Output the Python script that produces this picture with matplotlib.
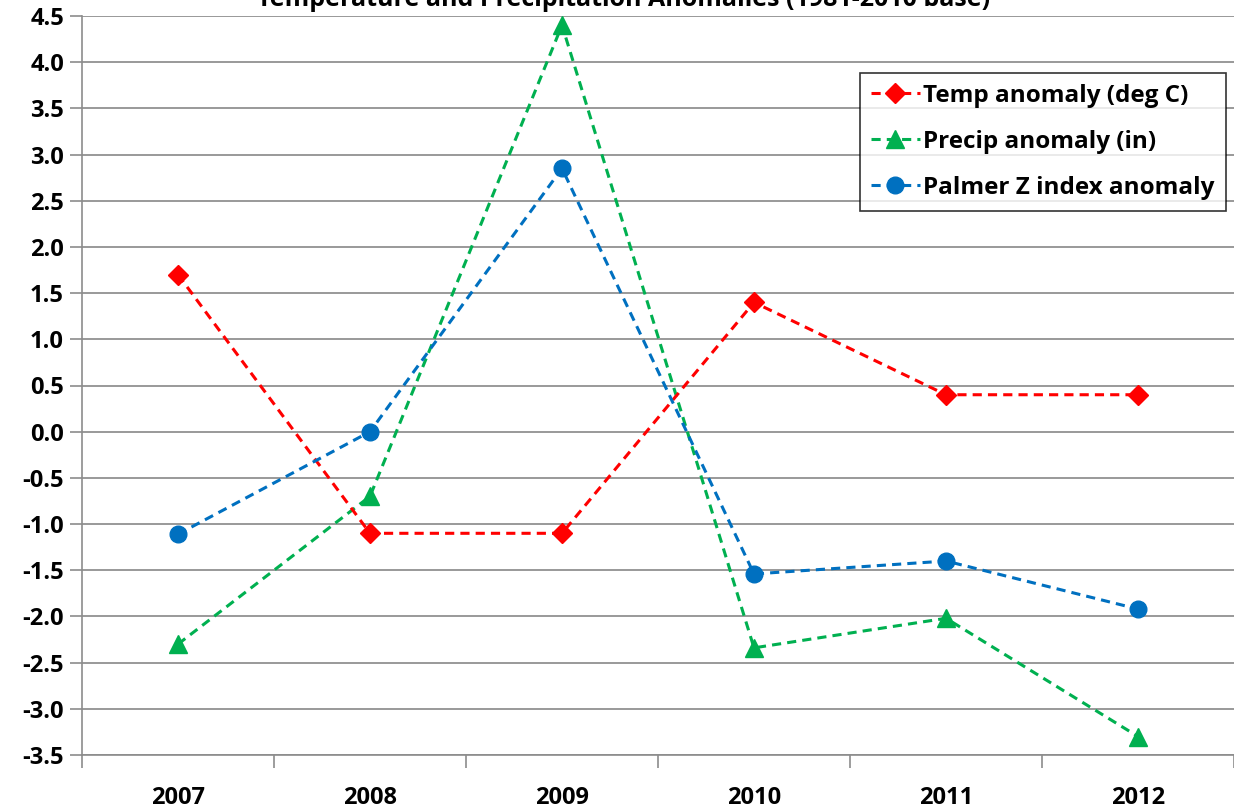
import numpy as np
import matplotlib
matplotlib.use('Agg')
import matplotlib.pyplot as plt
from matplotlib.ticker import FixedLocator

plt.rcParams['font.family'] = ['Open Sans', 'DejaVu Sans']

years = ["2007", "2008", "2009", "2010", "2011", "2012"]
temp_anom = [1.7, -1.1, -1.1, 1.4, 0.4, 0.4]
precip_anom = [-2.3, -0.7, 4.4, -2.34, -2.02, -3.3]
palmer_anom = [-1.11, 0.0, 2.85, -1.54, -1.40, -1.92]
yticks = np.arange(-3.5, 4.51, 0.5)

x = np.arange(len(years))

fig = plt.figure(figsize=(12.34, 8.11), dpi=100, facecolor="white")
ax = fig.add_axes([82/1234, 1 - 755/811, 1 - 82/1234, (755 - 16)/811])

dash = (0, (3.0, 2.0))
ax.plot(x, temp_anom, color="#FF0000", lw=2.2, ls=dash, marker="D", ms=10,
        label="Temp anomaly (deg C)", zorder=4)
ax.plot(x, precip_anom, color="#00B050", lw=2.2, ls=dash, marker="^", ms=13,
        label="Precip anomaly (in)", zorder=3)
ax.plot(x, palmer_anom, color="#0070C0", lw=2.2, ls=dash, marker="o", ms=12,
        label="Palmer Z index anomaly", zorder=5)

ax.set_xlim(-0.5, 5.5)
ax.set_ylim(-3.5, 4.5)
ax.set_yticks(yticks)
ax.set_yticklabels([f"{v:.1f}" for v in yticks], fontsize=17, fontweight="bold")
ax.set_xticks(x)
ax.set_xticklabels(years, fontsize=17, fontweight="bold")
ax.xaxis.set_minor_locator(FixedLocator(np.arange(-0.5, 5.6, 1.0)))
ax.tick_params(axis="x", which="major", length=0, pad=22)
ax.tick_params(axis="x", which="minor", length=9, color="#8c8c8c", width=1.2)
ax.tick_params(axis="y", length=9, color="#8c8c8c", width=1.2, pad=4)

ax.grid(axis="y", color="#999999", lw=1.4)
ax.set_axisbelow(True)
for s in ["top", "right"]:
    ax.spines[s].set_visible(False)
for s in ["left", "bottom"]:
    ax.spines[s].set_color("#8c8c8c")
    ax.spines[s].set_linewidth(1.2)

leg = ax.legend(loc="upper left",
                bbox_to_anchor=((860 - 82)/(1234 - 82), 1 - (73 - 16)/(755 - 16)),
                prop={"size": 17.5, "weight": "bold"}, frameon=True, fancybox=False,
                borderpad=0.45, handlelength=2.0, handletextpad=0.15,
                labelspacing=0.9, borderaxespad=0)
leg.get_frame().set_edgecolor("black")
leg.get_frame().set_linewidth(1.2)

fig.text(0.505, 1.0, "Temperature and Precipitation Anomalies (1981-2010 base)",
         ha="center", va="center", fontsize=18, fontweight="bold")

plt.savefig("out.png", dpi=100)
plt.close()
